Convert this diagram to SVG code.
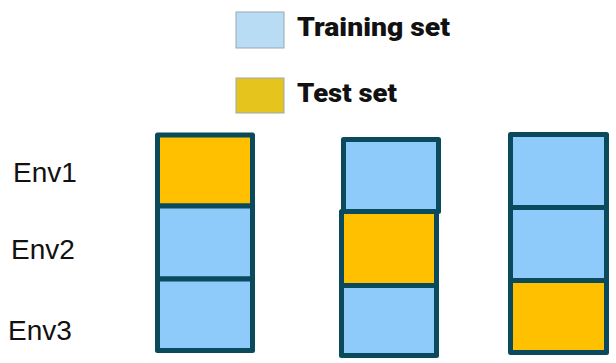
<svg xmlns="http://www.w3.org/2000/svg" width="616" height="363" viewBox="0 0 616 363">
  <style>
    .train { fill: #8ecbfb; stroke: #0b4a5c; stroke-width: 5; stroke-linejoin: round; }
    .test { fill: #ffc000; stroke: #0b4a5c; stroke-width: 5; stroke-linejoin: round; }
    .legend-train { fill: #b8dcf4; stroke: #9aa9b3; stroke-width: 1; }
    .legend-test { fill: #e6c41e; stroke: #9aa9b3; stroke-width: 1; }
    .legend-label { font-family: Roboto, "Liberation Sans", sans-serif; font-weight: 900; font-size: 25px; fill: #111; }
    .env { font-family: "Liberation Sans", Arial, sans-serif; font-size: 28px; fill: #111; }
  </style>

  <!-- legend -->
  <g id="legend">
    <rect class="legend-train" x="236" y="12" width="48" height="36"/>
    <text class="legend-label" x="297" y="36" textLength="153" lengthAdjust="spacingAndGlyphs">Training set</text>
    <rect class="legend-test" x="236" y="78" width="48" height="35"/>
    <text class="legend-label" x="297" y="102" textLength="100" lengthAdjust="spacingAndGlyphs">Test set</text>
  </g>

  <!-- environment labels -->
  <g id="labels">
    <text class="env" x="13" y="182">Env1</text>
    <text class="env" x="11" y="259">Env2</text>
    <text class="env" x="8" y="340">Env3</text>
  </g>

  <!-- split 1: Env1 held out -->
  <g id="split1">
    <rect class="test" x="157.5" y="135" width="95" height="71"/>
    <rect class="train" x="157.5" y="206" width="95" height="73"/>
    <rect class="train" x="157.5" y="279" width="95" height="71.5"/>
  </g>

  <!-- split 2: Env2 held out -->
  <g id="split2">
    <rect class="train" x="343.5" y="139.5" width="95" height="72"/>
    <rect class="test" x="341.5" y="211.5" width="95" height="74"/>
    <rect class="train" x="341.5" y="285.5" width="95" height="70"/>
  </g>

  <!-- split 3: Env3 held out -->
  <g id="split3">
    <rect class="train" x="510.5" y="134.5" width="96" height="73"/>
    <rect class="train" x="510.5" y="207.5" width="96" height="73"/>
    <rect class="test" x="510.5" y="280.5" width="96" height="72"/>
  </g>
</svg>
